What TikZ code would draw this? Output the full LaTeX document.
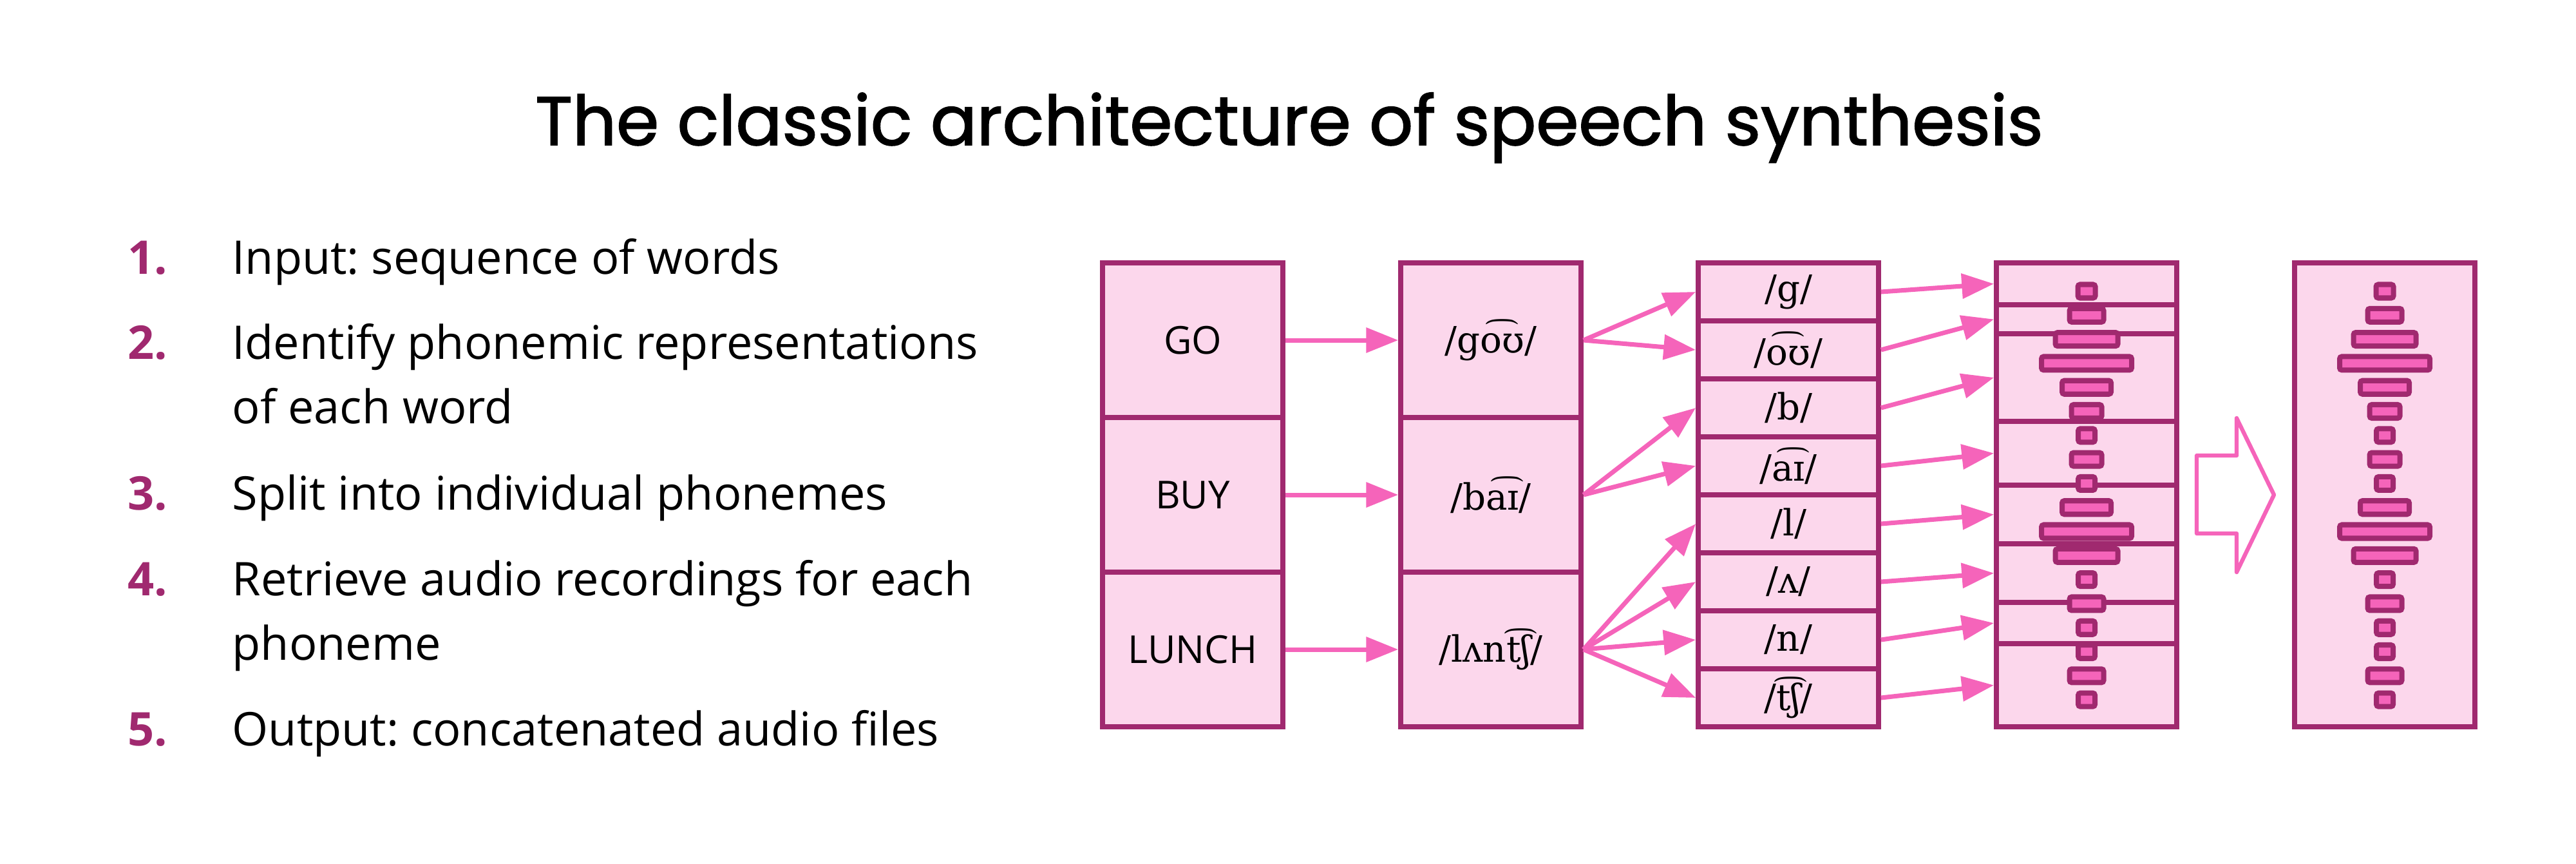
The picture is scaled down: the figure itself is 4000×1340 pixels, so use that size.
\documentclass[tikz,border=0pt]{standalone}
\usepackage{fontspec}
\setmainfont{Open Sans}
\newfontfamily\titlefont{Poppins}[FakeBold=1.6]
\newfontfamily\ipafont{DejaVu Serif}
\usepackage{tikz}
\usetikzlibrary{positioning,arrows.meta}
\frenchspacing
\definecolor{boxline}{HTML}{A0296F}
\definecolor{boxfill}{HTML}{FCD7EC}
\definecolor{arrowc}{HTML}{F564BA}
\tikzset{
  cell/.style={draw=boxline,fill=boxfill,line width=2.2pt,inner sep=0pt,minimum width=28mm},
  word/.style={cell,minimum height=24mm,font=\fontsize{17}{20}\selectfont},
  phon/.style={cell,font=\ipafont\fontsize{16}{19}\selectfont},
  link/.style={draw=arrowc,line width=2pt,-{Triangle[length=14.2pt,width=10.8pt,fill=arrowc]}},
  bar/.style={draw=boxline,fill=arrowc,line width=2.3pt,rounded corners=1pt},
  numtxt/.style={anchor=base west,inner sep=0pt,text=boxline,font=\fontsize{20.5}{28.45}\selectfont\bfseries},
  itemtxt/.style={anchor=base west,inner sep=0pt,font=\fontsize{20.5}{28.45}\selectfont},
}
\newcommand{\listitem}[3]{%
  \node[numtxt] (n#1) at (198,#2) {#1.};
  \node[itemtxt] (t#1) at (360,#2) {\parbox[t]{130mm}{#3}};
}
\newcommand{\wavebars}[1]{%
  \foreach \w [count=\k from 0] in {35,61,105,148,84,55,34,55,34,84,148,105,34,61,34,34,61,34}
    \draw[bar] ({#1-(\w-8)/2},{452+\k*37.3-10.5}) rectangle ({#1+(\w-8)/2},{452+\k*37.3+10.5});
}

\begin{document}
\begin{tikzpicture}[x=0.1mm,y=-0.1mm]
  \useasboundingbox (0,0) rectangle (4000,1340);
  % title
  \node[anchor=base,font=\titlefont\fontsize{30.3}{36}\selectfont] (title) at (2002,225)
    {The classic architecture of speech synthesis};
  % steps
  \listitem{1}{425}{Input: sequence of words}
  \listitem{2}{557}{Identify phonemic representations\\of each word}
  \listitem{3}{791}{Split into individual phonemes}
  \listitem{4}{924}{Retrieve audio recordings for each\\phoneme}
  \listitem{5}{1157}{Output: concatenated audio files}
  % words and their phonemic forms
  \foreach \wrd/\ph [count=\i] in {GO/go͡ʊ,BUY/ba͡ɪ,LUNCH/lʌnt͡ʃ} {
    \node[word] (w\i) at (1852,{288+240*\i}) {\wrd};
    \node[phon,minimum height=24mm] (p\i) at (2315,{288+240*\i}) {/\ph/};
  }
  % single phonemes
  \foreach \ph [count=\i] in {g,o͡ʊ,b,a͡ɪ,l,ʌ,n,t͡ʃ}
    \node[phon,minimum height=9mm] (s\i) at (2777,{363+90*\i}) {/\ph/};
  % audio pieces
  \foreach \t/\b [count=\i] in {408/473,473/518,518/654,654/753,753/844,844/935,935/999,999/1128}
    \node[cell,minimum height={(\b-\t)*0.1mm}] (a\i) at (3240,{(\t+\b)/2}) {};
  \node[cell,minimum height=72mm] (out) at (3703,768) {};
  \wavebars{3240}
  \wavebars{3703}
  % arrows
  \foreach \i in {1,2,3} \draw[link] (w\i) -- (p\i);
  \foreach \a/\b in {1/1,1/2,2/3,2/4,3/5,3/6,3/7,3/8} \draw[link] (p\a.east) -- (s\b.west);
  \foreach \i in {1,...,8} \draw[link] (s\i.east) -- (a\i.west);
  \draw[arrowc,line width=1.8pt,fill=white,line join=round]
    (3411,707) -- (3473,707) -- (3473,649) -- (3531,768) -- (3473,888) -- (3473,828) -- (3411,828) -- cycle;
\end{tikzpicture}
\end{document}
